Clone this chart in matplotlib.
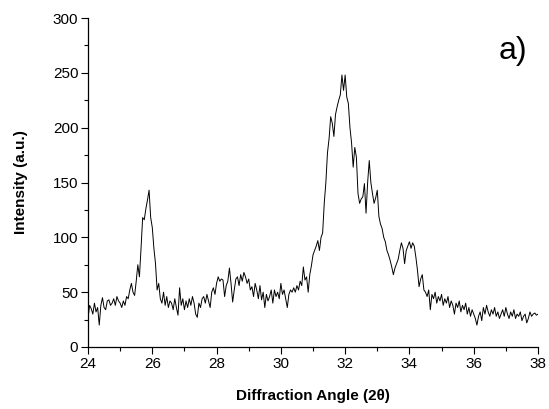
import numpy as np
import matplotlib
matplotlib.use("Agg")
import matplotlib.pyplot as plt
from matplotlib.ticker import MultipleLocator

plt.rcParams['font.family'] = ['Liberation Sans', 'DejaVu Sans']

# Diffraction angle grid (2theta), 0.05 deg sampling from 24 to 38
angle_start = 24.0
angle_step = 0.05

intensity_24_25 = [26, 38, 35, 30, 40, 32, 36, 20, 38, 45, 36, 34, 42, 43, 38, 40, 44, 38, 46, 42]
intensity_25_26 = [40, 36, 42, 38, 46, 44, 52, 58, 50, 47, 60, 75, 64, 90, 118, 116, 126, 134, 143, 118]
intensity_26_27 = [109, 90, 76, 52, 58, 44, 40, 50, 38, 46, 36, 42, 40, 34, 44, 36, 29, 54, 38, 44]
intensity_27_28 = [34, 42, 36, 44, 38, 46, 40, 30, 27, 40, 36, 44, 46, 40, 48, 42, 36, 50, 54, 48]
intensity_28_29 = [58, 64, 60, 62, 61, 46, 56, 60, 72, 58, 41, 52, 62, 64, 56, 66, 60, 68, 64, 58]
intensity_29_30 = [62, 52, 55, 46, 58, 52, 44, 56, 43, 50, 36, 48, 42, 46, 52, 40, 52, 46, 50, 44]
intensity_30_31 = [58, 48, 52, 44, 36, 48, 52, 50, 54, 50, 56, 52, 60, 56, 73, 61, 64, 50, 66, 74]
intensity_31_32 = [84, 88, 92, 97, 88, 100, 104, 131, 150, 177, 190, 210, 204, 192, 212, 219, 225, 230, 248, 234]
intensity_32_33 = [248, 228, 222, 200, 186, 164, 182, 173, 140, 131, 135, 137, 149, 122, 150, 170, 150, 140, 131, 136]
intensity_33_34 = [143, 119, 112, 108, 100, 96, 88, 84, 79, 73, 66, 72, 76, 80, 88, 95, 90, 76, 88, 92]
intensity_34_35 = [96, 90, 95, 92, 82, 70, 55, 62, 66, 52, 50, 46, 52, 34, 48, 44, 50, 40, 46, 42]
intensity_35_36 = [48, 38, 44, 40, 46, 36, 42, 38, 30, 40, 36, 42, 32, 38, 34, 40, 30, 36, 28, 34]
intensity_36_37 = [30, 26, 20, 28, 32, 24, 36, 30, 38, 32, 28, 34, 30, 36, 28, 32, 26, 30, 34, 28]
intensity_37_38 = [36, 30, 26, 32, 28, 34, 26, 30, 28, 32, 24, 28, 30, 22, 26, 32, 28, 30, 31, 29, 30]

intensity = np.array(intensity_24_25 + intensity_25_26 + intensity_26_27 + intensity_27_28 +
                     intensity_28_29 + intensity_29_30 + intensity_30_31 + intensity_31_32 +
                     intensity_32_33 + intensity_33_34 + intensity_34_35 + intensity_35_36 +
                     intensity_36_37 + intensity_37_38, dtype=float)
angle = angle_start + angle_step * np.arange(len(intensity))

x_ticks = [24, 26, 28, 30, 32, 34, 36, 38]
y_ticks = [0, 50, 100, 150, 200, 250, 300]

fig = plt.figure(figsize=(5.49, 4.09), dpi=100)
ax = fig.add_axes([88/549, 62/409, 450/549, 329/409])
ax.plot(angle, intensity, color='black', linewidth=0.7)

ax.set_xlim(24, 38)
ax.set_ylim(0, 300)
ax.set_xticks(x_ticks)
ax.set_yticks(y_ticks)
ax.xaxis.set_minor_locator(MultipleLocator(1))
ax.yaxis.set_minor_locator(MultipleLocator(25))
ax.tick_params(which='major', direction='out', length=5, width=0.8, labelsize=11, pad=2)
ax.tick_params(which='minor', direction='out', length=3, width=0.8)
for s in ['top', 'right']:
    ax.spines[s].set_visible(False)
for s in ['left', 'bottom']:
    ax.spines[s].set_linewidth(0.9)

ax.set_xlabel('Diffraction Angle (2θ)', fontsize=11, fontweight='bold', labelpad=13)
ax.set_ylabel('Intensity (a.u.)', fontsize=11, fontweight='bold', labelpad=18)
ax.text(0.945, 0.9, 'a)', transform=ax.transAxes, fontsize=23, ha='center', va='center')

fig.savefig('out.png', dpi=100)
